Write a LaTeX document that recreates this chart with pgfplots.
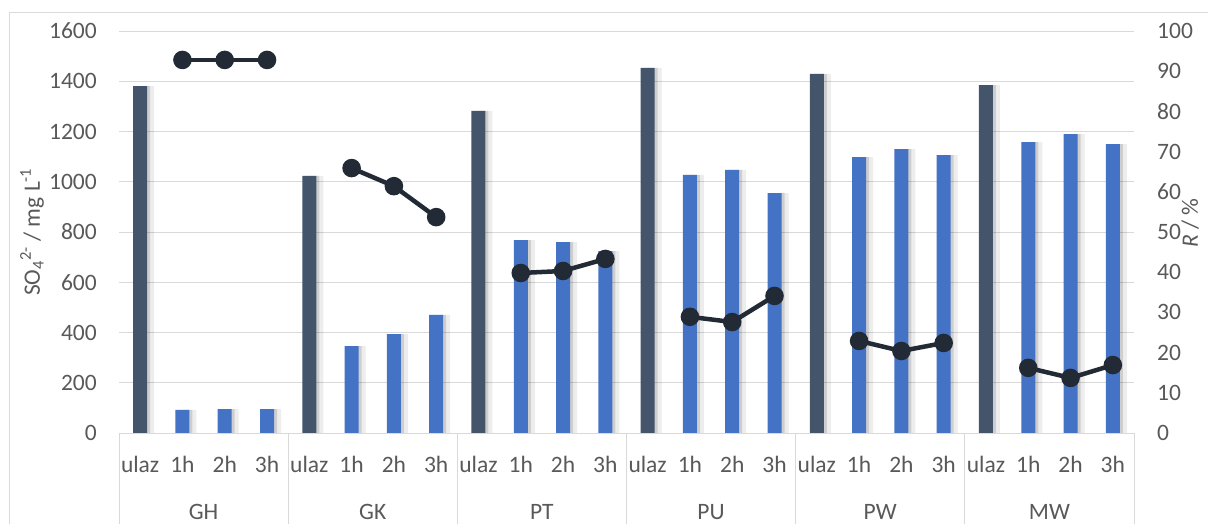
\documentclass[border=0pt]{standalone}
\usepackage{fontspec}
\setmainfont{Carlito}
\usepackage{pgfplots}
\usepackage{pgfplotstable}
\pgfplotsset{compat=1.18}
\definecolor{tickgray}{HTML}{595959}
\definecolor{gridgray}{HTML}{D9D9D9}
\definecolor{ulazc}{HTML}{44546A}
\definecolor{barc}{HTML}{4472C4}
\definecolor{linec}{HTML}{222A35}
\newcommand{\lblfont}{\fontsize{23.5}{28}\selectfont}

\pgfplotstableread{
x y
0 1381
4 1023
8 1282
12 1453
16 1429
20 1385
}\ulaz

\pgfplotstableread{
x y
1 92
2 95
3 95
5 346
6 394
7 470
9 768
10 760
11 724
13 1027
14 1047
15 955
17 1098
18 1130
19 1106
21 1158
22 1190
23 1150
}\rest

\begin{document}
\begin{tikzpicture}
\begin{axis}[
  scale only axis, width=1015pt, height=402pt,
  xmin=-0.5, xmax=23.5, ymin=0, ymax=1600,
  ytick={0,200,...,1600},
  xtick={0,...,23},
  xticklabels={ulaz,1h,2h,3h,ulaz,1h,2h,3h,ulaz,1h,2h,3h,ulaz,1h,2h,3h,ulaz,1h,2h,3h,ulaz,1h,2h,3h},
  major tick length=0pt,
  axis x line*=bottom, axis y line*=left,
  axis line style={draw=none},
  ymajorgrids, major grid style={gridgray, line width=0.8pt},
  clip=false,
  ticklabel style={font=\lblfont, text=tickgray},
  /pgf/number format/assume math mode=true,
  /pgf/number format/1000 sep={},
  yticklabel style={anchor=east, inner sep=0pt, xshift=-22pt},
  xticklabel style={anchor=base, inner sep=0pt, yshift=-40pt},
  ybar, bar width=14pt,
]
% soft shadows
\addplot[fill=black, draw=none, opacity=0.13, bar shift=3pt, bar width=14pt] table[x=x,y=y]{\ulaz};
\addplot[fill=black, draw=none, opacity=0.13, bar shift=3pt, bar width=14pt] table[x=x,y=y]{\rest};
\addplot[fill=black, draw=none, opacity=0.07, bar shift=7pt, bar width=14pt] table[x=x,y=y]{\ulaz};
\addplot[fill=black, draw=none, opacity=0.07, bar shift=7pt, bar width=14pt] table[x=x,y=y]{\rest};
% bars
\addplot[fill=ulazc, draw=none, bar shift=0pt] table[x=x,y=y]{\ulaz};
\addplot[fill=barc, draw=none, bar shift=0pt] table[x=x,y=y]{\rest};
% category separators
\pgfplotsinvokeforeach{-0.5,3.5,7.5,11.5,15.5,19.5,23.5}{
  \draw[gridgray, line width=0.8pt] (axis cs:#1,0) -- ++(0pt,-110pt);
}
% group labels
\path (axis cs:1.5,0) ++(0pt,-87pt) node[anchor=base, font=\lblfont, text=tickgray] {GH};
\path (axis cs:5.5,0) ++(0pt,-87pt) node[anchor=base, font=\lblfont, text=tickgray] {GK};
\path (axis cs:9.5,0) ++(0pt,-87pt) node[anchor=base, font=\lblfont, text=tickgray] {PT};
\path (axis cs:13.5,0) ++(0pt,-87pt) node[anchor=base, font=\lblfont, text=tickgray] {PU};
\path (axis cs:17.5,0) ++(0pt,-87pt) node[anchor=base, font=\lblfont, text=tickgray] {PW};
\path (axis cs:21.5,0) ++(0pt,-87pt) node[anchor=base, font=\lblfont, text=tickgray] {MW};
% axis titles
\path (rel axis cs:0,0.5) ++(-79pt,0pt) node[rotate=90, anchor=base, font=\lblfont, text=tickgray] {SO\textsubscript{4}\textsuperscript{2-} / mg L\textsuperscript{-1}};
\path (rel axis cs:1,0) ++(64pt,210pt) node[rotate=90, anchor=base, font=\lblfont, text=tickgray] {\textit{R} / \%};
\end{axis}

\begin{axis}[
  scale only axis, width=1015pt, height=402pt,
  xmin=-0.5, xmax=23.5, ymin=0, ymax=100,
  axis x line=none, axis y line*=right,
  y axis line style={draw=none},
  ytick={0,10,...,100},
  major tick length=0pt,
  clip=false,
  ticklabel style={font=\lblfont, text=tickgray},
  /pgf/number format/assume math mode=true,
  yticklabel style={anchor=west, inner sep=0pt, xshift=23pt},
]
\addplot[linec, line width=4.5pt, mark=*, mark size=7pt, mark options={fill=linec, draw=none}] coordinates {(1,92.8) (2,92.8) (3,92.8)};
\addplot[linec, line width=4.5pt, mark=*, mark size=7pt, mark options={fill=linec, draw=none}] coordinates {(5,65.9) (6,61.4) (7,53.7)};
\addplot[linec, line width=4.5pt, mark=*, mark size=7pt, mark options={fill=linec, draw=none}] coordinates {(9,39.8) (10,40.3) (11,43.3)};
\addplot[linec, line width=4.5pt, mark=*, mark size=7pt, mark options={fill=linec, draw=none}] coordinates {(13,28.9) (14,27.6) (15,34.1)};
\addplot[linec, line width=4.5pt, mark=*, mark size=7pt, mark options={fill=linec, draw=none}] coordinates {(17,22.9) (18,20.4) (19,22.4)};
\addplot[linec, line width=4.5pt, mark=*, mark size=7pt, mark options={fill=linec, draw=none}] coordinates {(21,16.2) (22,13.7) (23,16.9)};
\end{axis}

\draw[gridgray, line width=0.8pt] (-110pt,-150pt) -- (-110pt,420.5pt) -- (1200pt,420.5pt);
\pgfresetboundingbox
\path[use as bounding box] (-119pt,-91pt) rectangle (1089pt,433pt);
\end{tikzpicture}
\end{document}
